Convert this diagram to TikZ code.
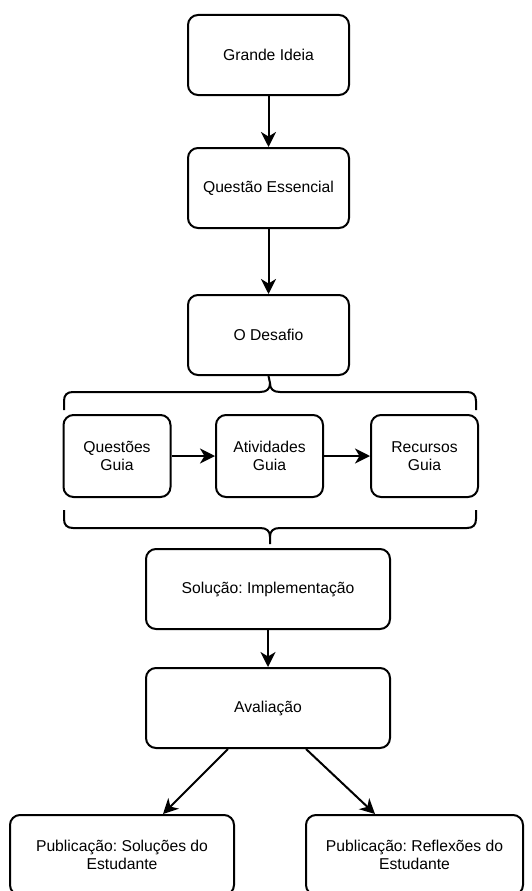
\documentclass[tikz,border=0pt]{standalone}
\usepackage{fontspec}
\setmainfont{Liberation Sans}
\frenchspacing
\usetikzlibrary{arrows.meta}
\tikzset{
  box/.style={draw=black, line width=2pt, rounded corners=10pt, fill=white,
    align=center, font=\fontsize{15.7}{18}\selectfont, inner sep=0pt},
  mainbox/.style={box, minimum width=161pt, minimum height=80pt},
  widebox/.style={box, minimum width=244pt, minimum height=80pt},
  smallbox/.style={box, minimum width=107pt, minimum height=82pt},
  pubbox/.style={box, minimum width=224pt, minimum height=80pt},
  arr/.style={line width=2pt, -{Stealth[length=15pt, width=15pt, inset=4.5pt]}},
  brace/.style={line width=2pt, line join=round}
}
\begin{document}
\begin{tikzpicture}[x=1pt, y=-1pt]
\useasboundingbox (0,0) rectangle (531,891);
\node[mainbox] (gi) at (268.5,55) {Grande Ideia};
\node[mainbox] (qe) at (268.5,188) {Questão Essencial};
\node[mainbox] (od) at (268.5,335) {O Desafio};
\node[smallbox] (qg) at (117,456) {Questões\\Guia};
\node[smallbox] (ag) at (269.5,456) {Atividades\\Guia};
\node[smallbox] (rg) at (424.5,456) {Recursos\\Guia};
\node[widebox] (si) at (268,589) {Solução: Implementação};
\node[widebox] (av) at (268,708) {Avaliação};
\node[pubbox] (ps) at (122,855) {Publicação: Soluções do\\Estudante};
\node[pubbox, minimum width=217pt] (pr) at (414.5,855) {Publicação: Reflexões do\\Estudante};

\draw[arr] (gi) -- (qe);
\draw[arr] (qe) -- (od);
\draw[arr] (qg) -- (ag);
\draw[arr] (ag) -- (rg);
\draw[arr] (si) -- (av);
\draw[arr] (av.south west) ++(83,0) coordinate (a1) (a1) -- (ps.north -| 163,0);
\draw[arr] (av.south east) ++(-85,0) coordinate (a2) (a2) -- (pr.north -| 375,0);

% top brace
\draw[brace] (64,410) -- (64,401) .. controls (64,395) and (67,392) .. (73,392)
  -- (260,392) .. controls (267,392) and (270,389) .. (270,383) -- (od.south)
  (270,383) .. controls (270,389) and (273,392) .. (280,392)
  -- (467,392) .. controls (473,392) and (476,395) .. (476,401) -- (476,410);
% bottom brace
\draw[brace] (64,510) -- (64,519) .. controls (64,525) and (67,528) .. (73,528)
  -- (260,528) .. controls (267,528) and (270,531) .. (270,537) -- (270,544)
  (270,537) .. controls (270,531) and (273,528) .. (280,528)
  -- (467,528) .. controls (473,528) and (476,525) .. (476,519) -- (476,510);
\end{tikzpicture}
\end{document}
